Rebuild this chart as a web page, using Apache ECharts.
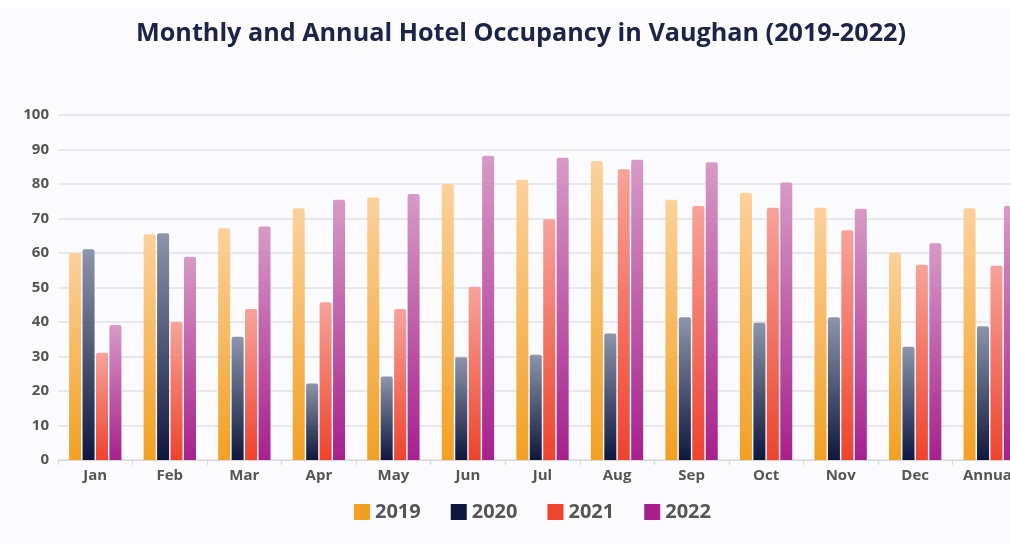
<!DOCTYPE html>
<html>
<head>
<meta charset="utf-8">
<script src="https://cdn.jsdelivr.net/npm/echarts@6/dist/echarts.min.js"></script>
<style>
  html, body { margin: 0; padding: 0; background: #ffffff; overflow: hidden; }
  /* the source picture is cut on the right, so draw a little wider */
  #chart { width: 1027px; height: 543px; }
</style>
</head>
<body>
<div id="chart"></div>
<script>
// data
var categories = ["Jan", "Feb", "Mar", "Apr", "May", "Jun", "Jul", "Aug", "Sep", "Oct", "Nov", "Dec", "Annual"];
var years = ["2019", "2020", "2021", "2022"];
var occ2019 = [60, 65.4, 67.2, 73, 76.1, 80, 81.2, 86.7, 75.4, 77.5, 73.1, 60.1, 73];
var occ2020 = [61.1, 65.7, 35.7, 22.2, 24.2, 29.8, 30.5, 36.7, 41.4, 39.8, 41.4, 32.8, 38.8];
var occ2021 = [31.1, 40, 43.8, 45.7, 43.8, 50.2, 69.8, 84.3, 73.6, 73.1, 66.6, 56.6, 56.3];
var occ2022 = [39.1, 58.9, 67.7, 75.4, 77.1, 88.2, 87.6, 87, 86.3, 80.4, 72.8, 62.8, 73.6];

var chart = echarts.init(document.getElementById("chart"));

// top = light colour, bottom = solid colour
var shades = [
  ["#fcd19c", "#f2a022"],
  ["#8c95aa", "#10173f"],
  ["#f7a39a", "#ee432d"],
  ["#d79ac6", "#a7208d"]
];
var values = [occ2019, occ2020, occ2021, occ2022];

function grad (s) {
  return new echarts.graphic.LinearGradient(0, 0, 0, 1, [
    { offset: 0, color: s[0] },
    { offset: 1, color: s[1] }
  ]);
}

var series = years.map(function (y, i) {
  return {
    name: y,
    type: "bar",
    barWidth: 12,
    barGap: "12%",
    data: values[i],
    itemStyle: {
      color: grad(shades[i]),
      borderRadius: [2, 2, 0, 0]
    }
  };
});

chart.setOption({
  backgroundColor: "#ffffff",
  graphic: [{
    type: "rect",
    z: -10,
    shape: { x: 0, y: 8, width: 1027, height: 535 },
    style: { fill: "#fbfbfd" }
  }],
  title: {
    text: "Monthly and Annual Hotel Occupancy in Vaughan (2019-2022)",
    left: 516,
    textAlign: "center",
    top: 16,
    textStyle: {
      fontFamily: "Open Sans",
      fontWeight: 700,
      fontSize: 25.2,
      color: "#1c2448"
    }
  },
  legend: {
    data: years.map(function (y, i) {
      return { name: y, itemStyle: { color: shades[i][1] } };
    }),
    bottom: 16,
    left: 349,
    itemWidth: 16,
    itemHeight: 16,
    itemGap: 30,
    icon: "rect",
    textStyle: {
      fontFamily: "Open Sans",
      fontWeight: 700,
      fontSize: 20,
      color: "#555555"
    }
  },
  grid: {
    left: 58,
    right: 0,
    top: 115,
    bottom: 83
  },
  xAxis: {
    type: "category",
    data: categories,
    axisLine: { lineStyle: { color: "#d9d9d9" } },
    axisTick: { show: true, length: 5, lineStyle: { color: "#d9d9d9" } },
    axisLabel: {
      margin: 8,
      fontFamily: "Open Sans",
      fontWeight: 700,
      fontSize: 15,
      color: "#555555"
    }
  },
  yAxis: {
    type: "value",
    min: 0,
    max: 100,
    interval: 10,
    axisLine: { show: false },
    axisTick: { show: false },
    splitLine: { lineStyle: { color: "#e2e2e4", width: 1.5 } },
    axisLabel: {
      margin: 9,
      fontFamily: "Open Sans",
      fontWeight: 700,
      fontSize: 15,
      color: "#555555"
    }
  },
  series: series
});
</script>
</body>
</html>
